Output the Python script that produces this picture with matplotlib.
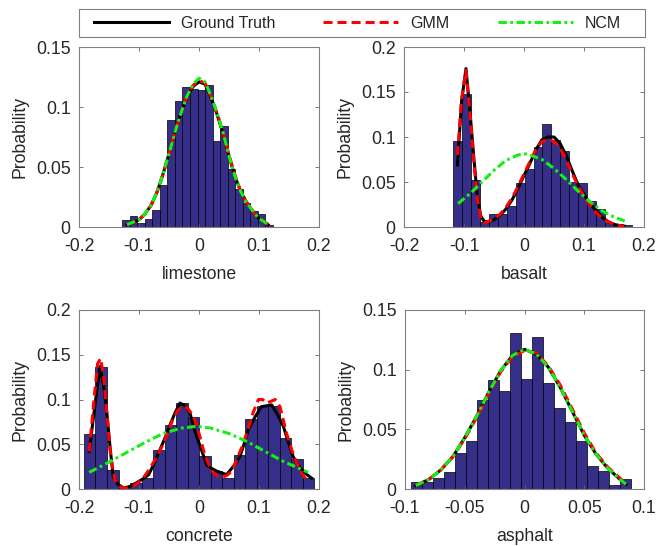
import numpy as np
import matplotlib
matplotlib.use("Agg")
import matplotlib.pyplot as plt
from matplotlib.patches import Rectangle
from matplotlib.ticker import FuncFormatter

plt.rcParams['font.family'] = ['Liberation Sans', 'DejaVu Sans']
plt.rcParams['axes.unicode_minus'] = False
plt.rcParams['lines.scale_dashes'] = False

# ---- histogram data (bin range + probabilities) ----
lime_range = (-0.1278, 0.1228)
lime_hist = [0.006, 0.009, 0.003, 0.007, 0.014, 0.035, 0.089, 0.105, 0.117, 0.115,
             0.114, 0.118, 0.072, 0.084, 0.048, 0.032, 0.020, 0.013, 0.011, 0.002]

basalt_range = (-0.118, 0.1795)
basalt_hist = [0.096, 0.148, 0.052, 0.006, 0.014, 0.014, 0.023, 0.049, 0.064, 0.089,
               0.115, 0.097, 0.085, 0.050, 0.049, 0.029, 0.020, 0.004, 0.003, 0.002]

concrete_range = (-0.1917, 0.1922)
concrete_hist = [0.061, 0.136, 0.021, 0.001, 0.007, 0.012, 0.044, 0.071, 0.096, 0.080,
                 0.037, 0.020, 0.012, 0.038, 0.078, 0.093, 0.093, 0.057, 0.033, 0.012]

asphalt_range = (-0.095, 0.0894)
asphalt_hist = [0.0056, 0.0056, 0.009, 0.014, 0.030, 0.040, 0.075, 0.091, 0.082, 0.131,
                0.0925, 0.127, 0.089, 0.068, 0.056, 0.040, 0.0195, 0.015, 0.003, 0.0086]

# ---- fitted curves ----
lime_x = [-0.12, -0.11, -0.10, -0.09, -0.08, -0.07, -0.06, -0.05, -0.04, -0.03, -0.02, -0.01,
          0.0, 0.01, 0.02, 0.03, 0.04, 0.05, 0.06, 0.07, 0.08, 0.09, 0.10, 0.11, 0.115]
lime_gt = [0.002, 0.004, 0.006, 0.011, 0.018, 0.029, 0.044, 0.061, 0.079, 0.095, 0.108, 0.117,
           0.121, 0.119, 0.108, 0.094, 0.078, 0.059, 0.042, 0.029, 0.020, 0.013, 0.007, 0.004, 0.002]
lime_gmm = [0.002, 0.004, 0.006, 0.011, 0.018, 0.029, 0.044, 0.061, 0.079, 0.095, 0.109, 0.118,
            0.122, 0.120, 0.109, 0.095, 0.079, 0.060, 0.043, 0.029, 0.020, 0.013, 0.007, 0.004, 0.002]
lime_ncm = [0.002, 0.004, 0.006, 0.011, 0.018, 0.029, 0.044, 0.061, 0.079, 0.095, 0.109, 0.119,
            0.124, 0.121, 0.109, 0.095, 0.079, 0.059, 0.042, 0.029, 0.020, 0.013, 0.007, 0.004, 0.002]

basalt_x = [-0.111, -0.104, -0.0967, -0.09, -0.084, -0.078, -0.072, -0.066, -0.06, -0.05, -0.04,
            -0.03, -0.02, -0.01, 0.0, 0.01, 0.02, 0.03, 0.04, 0.05, 0.06, 0.07, 0.08, 0.09, 0.10,
            0.11, 0.12, 0.13, 0.14, 0.15, 0.16, 0.167]
basalt_gt = [0.069, 0.140, 0.176, 0.128, 0.080, 0.035, 0.012, 0.006, 0.006, 0.008, 0.013,
             0.020, 0.030, 0.043, 0.057, 0.071, 0.086, 0.097, 0.100, 0.100, 0.093, 0.080, 0.063,
             0.047, 0.036, 0.026, 0.018, 0.011, 0.006, 0.003, 0.0015, 0.001]
basalt_gmm = [0.080, 0.142, 0.174, 0.126, 0.076, 0.032, 0.010, 0.005, 0.006, 0.009, 0.014,
              0.022, 0.032, 0.045, 0.059, 0.073, 0.086, 0.095, 0.097, 0.095, 0.088, 0.075, 0.060,
              0.046, 0.034, 0.024, 0.016, 0.010, 0.006, 0.003, 0.0015, 0.001]
ncm_basalt_x = [-0.11, -0.09, -0.07, -0.05, -0.03, -0.01, 0.0, 0.01, 0.03, 0.05, 0.07, 0.09,
                0.11, 0.13, 0.15, 0.171]
basalt_ncm = [0.026, 0.037, 0.050, 0.063, 0.074, 0.080, 0.0815, 0.080, 0.075, 0.065, 0.053,
              0.040, 0.028, 0.018, 0.011, 0.006]

concrete_x = [-0.183, -0.173, -0.165, -0.159, -0.154, -0.148, -0.143, -0.135, -0.125, -0.115,
              -0.104, -0.094, -0.084, -0.075, -0.065, -0.056, -0.048, -0.04, -0.0317, -0.023,
              -0.015, -0.0094, -0.004, 0.005, 0.0128, 0.021, 0.0294, 0.038, 0.046, 0.057, 0.068,
              0.075, 0.082, 0.093, 0.104, 0.113, 0.121, 0.131, 0.1406, 0.149, 0.157, 0.164,
              0.171, 0.18, 0.188]
concrete_gt = [0.042, 0.096, 0.137, 0.115, 0.088, 0.045, 0.014, 0.005, 0.001, 0.003, 0.007,
               0.011, 0.016, 0.028, 0.044, 0.058, 0.072, 0.085, 0.096, 0.093, 0.085, 0.070,
               0.059, 0.042, 0.027, 0.023, 0.020, 0.018, 0.016, 0.025, 0.036, 0.050, 0.066,
               0.080, 0.092, 0.093, 0.094, 0.083, 0.070, 0.052, 0.036, 0.028, 0.0216, 0.016, 0.012]
gmm_concrete_x = [-0.183, -0.175, -0.169, -0.164, -0.159, -0.153, -0.147, -0.14, -0.13, -0.12,
                  -0.11, -0.1, -0.09, -0.082, -0.07, -0.06, -0.05, -0.043, -0.035, -0.028, -0.02,
                  -0.012, -0.005, 0.0017, 0.008, 0.0156, 0.022, 0.029, 0.038, 0.046, 0.055, 0.063,
                  0.071, 0.0794, 0.09, 0.099, 0.106, 0.113, 0.12, 0.127, 0.135, 0.146, 0.155,
                  0.163, 0.171, 0.179]
concrete_gmm = [0.042, 0.100, 0.140, 0.146, 0.125, 0.080, 0.035, 0.010, 0.002, 0.001, 0.003,
                0.008, 0.015, 0.023, 0.036, 0.050, 0.066, 0.079, 0.088, 0.092, 0.091, 0.084,
                0.074, 0.058, 0.042, 0.028, 0.020, 0.015, 0.013, 0.015, 0.020, 0.033, 0.046,
                0.062, 0.085, 0.100, 0.100, 0.096, 0.098, 0.100, 0.092, 0.062, 0.043, 0.029,
                0.018, 0.010]
ncm_concrete_x = [-0.183, -0.15, -0.12, -0.09, -0.06, -0.03, -0.004, 0.02, 0.05, 0.08, 0.11,
                  0.14, 0.182]
concrete_ncm = [0.0186, 0.030, 0.041, 0.052, 0.062, 0.068, 0.070, 0.068, 0.062, 0.053, 0.042,
                0.031, 0.0186]

asphalt_x = [-0.091, -0.08, -0.07, -0.06, -0.05, -0.04, -0.03, -0.02, -0.01, 0.0, 0.01, 0.02,
             0.03, 0.04, 0.05, 0.06, 0.07, 0.08, 0.085]
asphalt_gt = [0.003, 0.008, 0.016, 0.027, 0.043, 0.061, 0.081, 0.099, 0.112, 0.117, 0.113,
              0.102, 0.085, 0.065, 0.045, 0.029, 0.017, 0.008, 0.004]
asphalt_gmm = [0.003, 0.008, 0.016, 0.027, 0.042, 0.060, 0.080, 0.098, 0.111, 0.116, 0.114,
               0.103, 0.087, 0.067, 0.047, 0.030, 0.018, 0.009, 0.004]
asphalt_ncm = [0.003, 0.008, 0.016, 0.027, 0.043, 0.061, 0.081, 0.099, 0.112, 0.117, 0.113,
               0.102, 0.085, 0.065, 0.045, 0.029, 0.017, 0.008, 0.004]

panels = [
    ("limestone", lime_range, lime_hist, (lime_x, lime_gt), (lime_x, lime_gmm), (lime_x, lime_ncm),
     (-0.2, 0.2), [-0.2, -0.1, 0, 0.1, 0.2], 0.15),
    ("basalt", basalt_range, basalt_hist, (basalt_x, basalt_gt), (basalt_x, basalt_gmm),
     (ncm_basalt_x, basalt_ncm), (-0.2, 0.2), [-0.2, -0.1, 0, 0.1, 0.2], 0.2),
    ("concrete", concrete_range, concrete_hist, (concrete_x, concrete_gt),
     (gmm_concrete_x, concrete_gmm), (ncm_concrete_x, concrete_ncm),
     (-0.2, 0.2), [-0.2, -0.1, 0, 0.1, 0.2], 0.2),
    ("asphalt", asphalt_range, asphalt_hist, (asphalt_x, asphalt_gt), (asphalt_x, asphalt_gmm),
     (asphalt_x, asphalt_ncm), (-0.1, 0.1), [-0.1, -0.05, 0, 0.05, 0.1], 0.15),
]

W, H = 656, 546
# axes rectangles in figure fraction (left, bottom, width, height)
rects = [(79 / W, 1 - 227 / H, 240 / W, 180 / H), (404 / W, 1 - 227 / H, 240 / W, 180 / H),
         (79 / W, 1 - 489 / H, 240 / W, 179 / H), (405 / W, 1 - 489 / H, 239 / W, 179 / H)]

text_col = '#262626'
green = '#14f014'
fmt = FuncFormatter(lambda v, p: ('%g' % round(v, 4)))

fig = plt.figure(figsize=(W / 100, H / 100), dpi=100)
handles = None
for (name, rng, hist, gt, gmm, ncm, xlim, xticks, ymax), rect in zip(panels, rects):
    ax = fig.add_axes(rect)
    edges = np.linspace(rng[0], rng[1], len(hist) + 1)
    ax.bar(edges[:-1], hist, width=np.diff(edges), align='edge', color='#352f8a',
           edgecolor='black', linewidth=0.5)
    h1, = ax.plot(gt[0], gt[1], '-', color='black', lw=2.2, label='Ground Truth')
    h2, = ax.plot(gmm[0], gmm[1], color='red', lw=2.2, dashes=(6.5, 3.6), label='GMM')
    h3, = ax.plot(ncm[0], ncm[1], color=green, lw=2.2, dashes=(6, 2.5, 2, 2.5), label='NCM')
    handles = [h1, h2, h3]
    ax.set_xlim(*xlim)
    ax.set_ylim(0, ymax)
    ax.set_xticks(xticks)
    ax.set_yticks(np.arange(0, ymax + 1e-9, 0.05))
    ax.xaxis.set_major_formatter(fmt)
    ax.yaxis.set_major_formatter(fmt)
    ax.tick_params(direction='in', top=True, right=True, length=3, width=0.6,
                   color='#606060', labelsize=12.7, labelcolor=text_col)
    ax.tick_params(axis='x', pad=8)
    ax.tick_params(axis='y', pad=6)
    for s in ax.spines.values():
        s.set_color('#808080')
        s.set_linewidth(0.8)
    ax.set_xlabel(name, fontsize=12.7, color=text_col, labelpad=8)
    ax.set_ylabel('Probability', fontsize=12.7, color=text_col, labelpad=5)

# legend box spanning both columns
fig.patches.append(Rectangle((79 / W, 1 - 37 / H), 566 / W, 28 / H, transform=fig.transFigure,
                             facecolor='white', edgecolor='#808080', linewidth=0.8))
leg = fig.legend(handles, ['Ground Truth', 'GMM', 'NCM'], ncol=3, loc='center left',
                 bbox_to_anchor=(94 / W, 1 - 23 / H), fontsize=11.5, frameon=False,
                 borderpad=0, borderaxespad=0, handlelength=4.7, handletextpad=0.75,
                 columnspacing=3.0)
for t in leg.get_texts():
    t.set_color(text_col)

fig.savefig('out.png', dpi=100)
